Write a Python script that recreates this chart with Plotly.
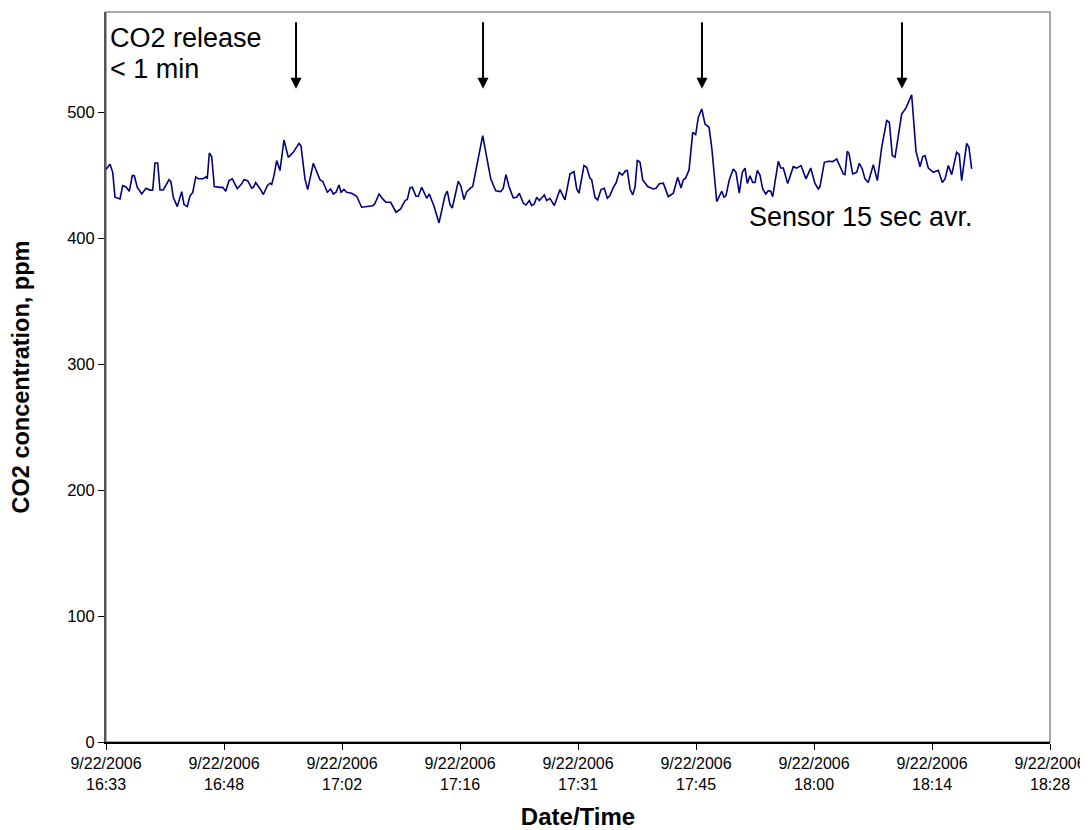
import datetime as dt
import plotly.graph_objects as go

# --- data -------------------------------------------------------------
start = dt.datetime(2006, 9, 22, 16, 33, 36)

# minutes after 16:33:36 on 9/22/2006
minutes = [
    0.00, 0.49, 0.82, 1.10, 1.71, 2.04, 2.44, 2.84, 3.21, 3.45, 3.82, 4.36, 4.88, 5.37, 5.70,
    5.98, 6.31, 6.59, 6.99, 7.69, 7.93, 8.21, 8.70, 9.24, 9.52, 9.92, 10.25, 10.58, 10.95, 11.26,
    11.87, 12.20, 12.36, 12.61, 12.90, 13.22, 13.91, 14.24, 14.61, 15.01, 15.41, 16.02, 16.56, 16.84,
    17.29, 17.78, 17.98, 18.27, 18.79, 19.20, 19.68, 20.01, 20.22, 20.50, 20.83, 21.23, 21.72, 22.25,
    22.86, 23.55, 23.80, 24.28, 24.61, 25.30, 26.12, 26.44, 27.01, 27.42, 27.74, 28.07, 28.43, 28.68,
    29.04, 29.37, 29.98, 30.39, 30.59, 31.20, 31.61, 32.01, 32.55, 32.83, 33.32, 33.77, 34.17, 34.74,
    35.39, 35.96, 36.49, 36.77, 37.10, 37.38, 37.83, 38.11, 38.53, 39.14, 39.45, 40.03, 40.64, 41.37,
    41.65, 41.98, 42.26, 42.99, 43.29, 43.69, 44.02, 44.51, 44.75, 45.97, 46.53, 46.95, 47.56, 48.17,
    48.48, 48.81, 49.18, 49.70, 50.12, 50.44, 50.93, 51.25, 51.66, 51.95, 52.27, 52.56, 52.88, 53.49,
    53.78, 54.18, 54.71, 55.40, 56.01, 56.62, 57.11, 57.44, 57.72, 58.33, 58.66, 59.06, 59.27, 59.67,
    60.00, 60.41, 60.81, 61.18, 61.50, 61.91, 62.24, 62.64, 63.01, 63.42, 63.62, 63.95, 64.28, 64.56,
    64.84, 65.17, 65.50, 66.11, 66.79, 67.12, 67.52, 68.01, 68.62, 69.23, 69.77, 70.17, 70.45, 70.74,
    71.15, 71.60, 71.96, 72.28, 72.70, 73.10, 73.59, 73.92, 74.53, 75.14, 75.42, 75.66, 76.06, 76.55,
    76.88, 77.28, 77.65, 77.98, 78.26, 78.59, 78.92, 79.20, 79.48, 79.81, 80.14, 80.51, 80.82, 81.12,
    81.36, 82.04, 82.34, 82.65, 83.19, 83.87, 84.29, 84.81, 85.42, 86.00, 86.52, 86.92, 87.13, 87.66,
    88.15, 88.68, 89.17, 89.49, 89.98, 90.18, 90.46, 90.67, 91.12, 91.61, 91.93, 92.29, 92.62, 93.02,
    93.64, 94.13, 94.66, 95.27, 95.59, 95.96, 96.29, 97.10, 97.63, 98.32, 98.85, 99.34, 99.67, 99.95,
    100.35, 100.96, 101.57, 102.06, 102.39, 102.79, 103.20, 103.81, 104.13, 104.42, 105.03, 105.31, 105.64,
]

co2_ppm = [
    455, 459, 452.6, 432.8, 431.5, 442, 441, 437.5, 450, 450, 440.7, 435.5, 440, 438.5, 438.5,
    460, 460, 438.6, 438.6, 446.8, 445, 432.8, 425.4, 437.3, 427, 425.4, 434, 436.5, 449, 447.5,
    447.5, 449, 447.5, 468, 465, 441.3, 440.7, 440.7, 437.5, 446, 447.5, 439.6, 443.5, 446.8,
    446, 440, 440.7, 444.5, 439.6, 435, 442, 444, 443, 450, 462, 454, 478.3, 464.5,
    468.5, 475.6, 473.5, 447.4, 438.9, 459.8, 446.6, 445.5, 436.8, 439.4, 435.4, 436.8, 442.6, 436.8,
    439, 436.8, 436, 434.1, 433.6, 424.9, 425.3, 426, 426, 428, 435.4, 431.5, 428.8, 428.8,
    420.9, 423.5, 430.2, 431, 440.2, 440.7, 433.6, 433.6, 440.7, 432, 435.4, 425.6, 412.4, 434.1,
    437.6, 427, 424.3, 445.5, 442, 431, 437.3, 440.2, 441.3, 481.7, 463.2, 447.4, 438, 437.3,
    440, 450.8, 441.3, 432.3, 432.8, 436, 428, 426.7, 430.2, 426.2, 427.5, 432.8, 430.2, 434.7,
    430.2, 432, 426.2, 438.9, 430.7, 451.3, 453.2, 439.4, 436, 458, 456.6, 447.9, 446.8, 432.8,
    430.7, 438.9, 440, 432, 434.1, 440.7, 444.1, 452.6, 450.5, 454, 454, 439.4, 434.7, 440.7,
    462.4, 460.6, 446.6, 441.3, 439.4, 440, 443.5, 444, 433.3, 436, 448.7, 440.2, 446.6, 448.2,
    454.5, 484.4, 482.6, 496.3, 502.9, 491, 488.4, 472.5, 429.4, 437.6, 432.8, 434.1, 446.6, 455.3,
    452.6, 436, 452.6, 456, 443.8, 449.8, 444.5, 444.5, 454.2, 450.5, 439.4, 435.4, 438, 437.6,
    433.3, 461.4, 456, 456, 443.8, 457.1, 456, 458, 447.4, 456, 443.8, 439.4, 441.3, 460.6,
    461.4, 461.1, 463.2, 458, 451.3, 450.8, 469.3, 467.7, 451.3, 452.6, 459.8, 455.3, 447.4, 444.5,
    458.7, 446, 472.5, 493.7, 492.4, 465.9, 464.6, 499, 503.8, 514.3, 469.3, 457, 465, 465.9,
    456, 452.6, 454.2, 444.5, 447.4, 458, 450.8, 468.5, 466.7, 446, 475.6, 472.5, 455.3,
]

# CO2 release moments (minutes after start)
release_minutes = [23.19, 46.01, 72.73, 97.14]

# x axis ticks: every 0.01 day (14.4 min) starting 0.69 day
tick_minutes = [0.0, 14.4, 28.8, 43.2, 57.6, 72.0, 86.4, 100.8, 115.2]
tick_labels = ["16:33", "16:48", "17:02", "17:16", "17:31", "17:45", "18:00", "18:14", "18:28"]
y_ticks = [0, 100, 200, 300, 400, 500]

# --- build figure -----------------------------------------------------
times = [start + dt.timedelta(minutes=m) for m in minutes]
tick_times = [start + dt.timedelta(minutes=m) for m in tick_minutes]
tick_text = ["9/22/2006<br>" + t for t in tick_labels]

fig = go.Figure()
fig.add_trace(go.Scatter(
    x=times, y=co2_ppm, mode="lines",
    line=dict(color="#000080", width=1.6),
    showlegend=False, hoverinfo="skip",
))

font_family = "Liberation Sans, Arial, sans-serif"

fig.update_layout(
    width=1080, height=822,
    margin=dict(l=98, r=38, t=4, b=88),
    paper_bgcolor="white", plot_bgcolor="white",
    font=dict(family=font_family, color="black", size=16),
    xaxis=dict(
        type="date",
        range=[tick_times[0], tick_times[-1]],
        tickvals=tick_times, ticktext=tick_text,
        ticks="outside", ticklen=6, tickcolor="black", tickwidth=1,
        showgrid=False, zeroline=False,
        showline=True, linecolor="black", linewidth=2,
        tickfont=dict(size=16),
        title=dict(text="<b>Date/Time</b>", font=dict(size=24), standoff=19),
        automargin=False,
    ),
    yaxis=dict(
        range=[0, 580],
        tickvals=y_ticks,
        ticks="outside", ticklen=6, tickcolor="black", tickwidth=1,
        showgrid=False, zeroline=False,
        showline=True, linecolor="#555555", linewidth=2,
        tickfont=dict(size=16.5),
        title=dict(text="<b>CO2 concentration, ppm</b>", font=dict(size=23.5), standoff=38),
        automargin=False,
    ),
)

# plot-area border (top/right)
fig.add_shape(type="rect", xref="paper", yref="paper", x0=0, y0=0, x1=1, y1=1,
              line=dict(color="#8c8c8c", width=1.5), layer="below")

# arrows for CO2 release events
for m in release_minutes:
    t = start + dt.timedelta(minutes=m)
    fig.add_annotation(
        x=t, y=519, xref="x", yref="y", text="",
        showarrow=True, ax=0, ay=-68,
        arrowhead=2, arrowsize=1.1, arrowwidth=2, arrowcolor="black",
    )

fig.add_annotation(
    xref="paper", yref="y", x=0.002, y=559, xanchor="left", yanchor="middle",
    text="CO2 release", showarrow=False, align="left",
    font=dict(size=27, family=font_family, color="black"),
)
fig.add_annotation(
    xref="paper", yref="y", x=0.002, y=534.5, xanchor="left", yanchor="middle",
    text="&lt; 1 min", showarrow=False, align="left",
    font=dict(size=27, family=font_family, color="black"),
)
fig.add_annotation(
    xref="paper", yref="y", x=0.921, y=417, xanchor="right", yanchor="middle",
    text="Sensor 15 sec avr.", showarrow=False,
    font=dict(size=27, family=font_family, color="black"),
)

fig.write_html("out.html")
